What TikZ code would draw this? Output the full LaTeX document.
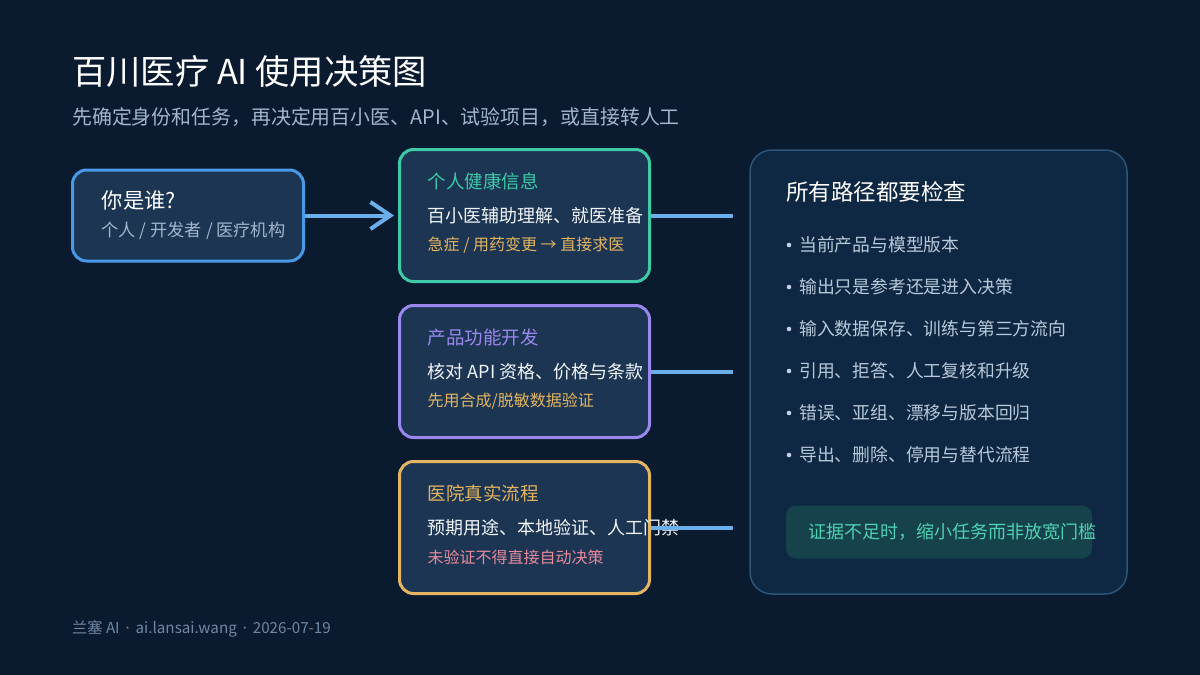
\documentclass[tikz,border=0pt]{standalone}
\usepackage{fontspec}
\setmainfont{Noto Sans CJK SC}
\newfontfamily\latinfont{Noto Sans}
\usetikzlibrary{positioning, arrows.meta}

\definecolor{bgcol}{HTML}{0A1A2F}
\definecolor{boxfill}{HTML}{1B3553}
\definecolor{whoblue}{HTML}{4A98E8}
\definecolor{linkblue}{HTML}{6AAEEA}
\definecolor{teal}{HTML}{3EC9A7}
\definecolor{violet}{HTML}{9A88EE}
\definecolor{gold}{HTML}{E3B461}
\definecolor{rose}{HTML}{E8899C}
\definecolor{bodywhite}{HTML}{F2F5F8}
\definecolor{subgray}{HTML}{A3B6CB}
\definecolor{panelfill}{HTML}{0E2742}
\definecolor{panelline}{HTML}{2E5577}
\definecolor{itemgray}{HTML}{B8C9DA}
\definecolor{notefill}{HTML}{15424B}
\definecolor{notetext}{HTML}{4FD1B2}
\definecolor{footgray}{HTML}{6F88A3}

\begin{document}
\begin{tikzpicture}[
    x=1pt, y=-1pt,
    node distance=156pt,
    on grid,
    txt/.style={inner sep=0pt, anchor=west},
    pathbox/.style={
        draw=#1,
        line width=3pt,
        fill=boxfill,
        rounded corners=14pt,
        minimum width=250pt,
        minimum height=132pt
    },
    head/.style={txt, font=\fontsize{18.5}{20}\selectfont},
    body/.style={txt, text=bodywhite, font=\fontsize{18}{20}\selectfont},
    hint/.style={txt, font=\fontsize{16}{18}\selectfont},
    link/.style={draw=linkblue, line width=4pt},
    item/.style={txt, text=itemgray, font=\fontsize{17.8}{20}\selectfont}
]

% background
\fill[bgcol] (0,0) rectangle (1200,675);

% heading
\node[txt, text=white, font=\fontsize{34.3}{38}\selectfont] (title) at (72,71.5) {百川医疗 AI 使用决策图};
\node[txt, text=subgray, font=\fontsize{19.9}{22}\selectfont] (subtitle) at (72,116.7) {先确定身份和任务，再决定用百小医、API、试验项目，或直接转人工};

% boxes
\node[pathbox=whoblue, minimum width=231pt, minimum height=91pt] (who) at (188,215.5) {};
\node[pathbox=teal, right=336.5pt of who] (health) {};
\node[pathbox=violet, below=of health] (dev) {};
\node[pathbox=gold, below=of dev] (hosp) {};

\node[txt, text=white, font=\fontsize{21.3}{24}\selectfont] (whoT) at ([xshift=30.5pt, yshift=-32pt]who.north west) {你是谁?};
\node[txt, text=subgray, font=\fontsize{17.2}{20}\selectfont] (whoS) at ([xshift=30.5pt, yshift=-62pt]who.north west) {个人 / 开发者 / 医疗机构};

\node[head, text=teal] (healthT) at ([xshift=29.5pt, yshift=-33pt]health.north west) {个人健康信息};
\node[body] (healthB) at ([xshift=29.5pt, yshift=-67.5pt]health.north west) {百小医辅助理解、就医准备};
\node[hint, text=gold] (healthH) at ([xshift=29.5pt, yshift=-97.5pt]health.north west) {急症 / 用药变更 → 直接求医};

\node[head, text=violet] (devT) at ([xshift=29.5pt, yshift=-33pt]dev.north west) {产品功能开发};
\node[body] (devB) at ([xshift=29.5pt, yshift=-67.5pt]dev.north west) {核对 API 资格、价格与条款};
\node[hint, text=gold] (devH) at ([xshift=29.5pt, yshift=-97.5pt]dev.north west) {先用合成/脱敏数据验证};

\node[head, text=gold] (hospT) at ([xshift=29.5pt, yshift=-33pt]hosp.north west) {医院真实流程};
\node[body] (hospB) at ([xshift=29.5pt, yshift=-67.5pt]hosp.north west) {预期用途、本地验证、人工门禁};
\node[hint, text=rose] (hospH) at ([xshift=29.5pt, yshift=-97.5pt]hosp.north west) {未验证不得直接自动决策};

% checks panel
\node[draw=panelline, line width=1.5pt, fill=panelfill, rounded corners=22pt,
      minimum width=377pt, minimum height=444pt] (panel) at (938.5,372) {};
\node[txt, text=white, font=\fontsize{22.5}{26}\selectfont] (panelT) at ([xshift=37pt, yshift=-43pt]panel.north west) {所有路径都要检查};
\foreach \t [count=\i] in {当前产品与模型版本, 输出只是参考还是进入决策, 输入数据保存、训练与第三方流向,
                          引用、拒答、人工复核和升级, 错误、亚组、漂移与版本回归, 导出、删除、停用与替代流程} {
    \node[item] (item\i) at (799,{245+42*(\i-1)}) {\t};
    \fill[itemgray!85] ([xshift=-10pt]item\i.west) circle (2.3pt);
}
\node[fill=notefill, rounded corners=10pt, minimum width=306pt, minimum height=53pt] (note) at (939,532) {};
\node[txt, text=notetext, font=\fontsize{18}{20}\selectfont] (noteT) at ([xshift=22pt]note.west) {证据不足时，缩小任务而非放宽门槛};

% footer
\node[txt, text=footgray, font=\fontsize{15.2}{17}\selectfont] (foot) at (72,629) {兰塞 AI\, {\latinfont ·}\, ai.lansai.wang\, {\latinfont ·}\, 2026-07-19};

% connectors
\coordinate[right=81.5pt of health.east] (healthEnd);
\coordinate[right=81.5pt of dev.east] (devEnd);
\coordinate[right=81.5pt of hosp.east] (hospEnd);
\draw[link, -{Straight Barb[length=20pt, width=27pt, line width=4pt]}, shorten >=4pt] (who) -- (health);
\draw[link] (health.east) -- (healthEnd);
\draw[link] (dev.east) -- (devEnd);
\draw[link] (hosp.east) -- (hospEnd);
\end{tikzpicture}
\end{document}
